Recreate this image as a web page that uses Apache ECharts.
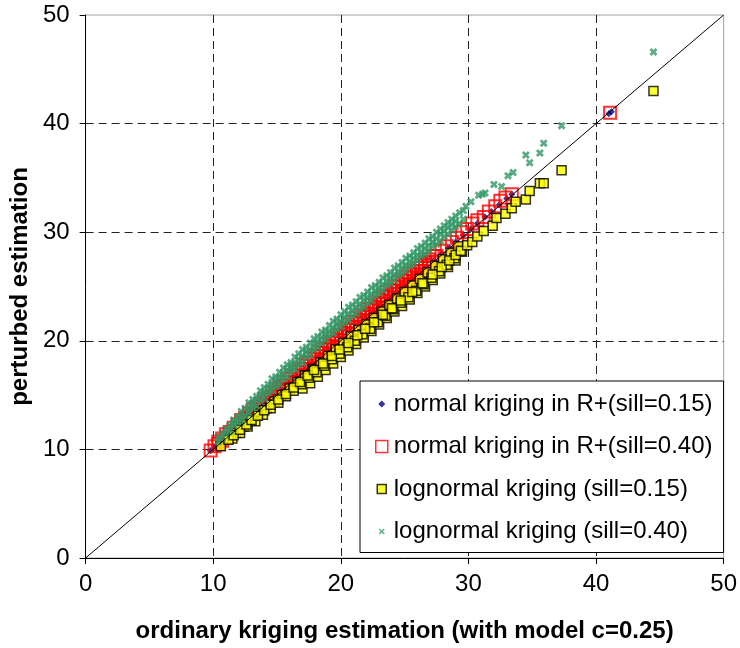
<!DOCTYPE html>
<html>
<head>
<meta charset="utf-8">
<script src="https://cdn.jsdelivr.net/npm/echarts@6/dist/echarts.min.js"></script>
<style>
html, body { margin: 0; padding: 0; background: #fff; }
#chart { width: 740px; height: 648px; }
</style>
</head>
<body>
<div id="chart"></div>
<script>
var FONT = "'Liberation Sans', Arial, sans-serif";

var seriesNames = [
    'normal kriging in R+(sill=0.15)',
    'normal kriging in R+(sill=0.40)',
    'lognormal kriging (sill=0.15)',
    'lognormal kriging (sill=0.40)'
];
var xTitle = 'ordinary kriging estimation (with model c=0.25)';
var yTitle = 'perturbed estimation';

// normal kriging, sill 0.15 (sits on the diagonal)
var normal015 = [
    [9.8, 9.9], [10.2, 10.3], [10.7, 10.8], [11.2, 11.3], [11.7, 11.8], [12.3, 12.4], [12.9, 13.0],
    [13.5, 13.6], [14.1, 14.2], [14.7, 14.8], [15.3, 15.4], [15.9, 16.0], [16.5, 16.6], [17.1, 17.2],
    [17.7, 17.8], [18.3, 18.4], [18.9, 19.0], [19.5, 19.6], [20.1, 20.2], [20.7, 20.8], [21.3, 21.4],
    [21.9, 22.0], [22.5, 22.6], [23.1, 23.2], [23.7, 23.8], [24.3, 24.4], [24.9, 25.0], [25.5, 25.6],
    [26.1, 26.2], [26.7, 26.8], [27.3, 27.4], [27.9, 28.0], [28.5, 28.6], [29.0, 29.1], [29.6, 29.7],
    [30.2, 30.3], [30.7, 30.8], [31.3, 31.4], [31.8, 31.9], [32.4, 32.5], [33.0, 33.1], [33.4, 33.5],
    [41.0, 40.9], [41.2, 41.1]
];

// normal kriging, sill 0.40 (hollow squares, just above the diagonal)
var normal040 = [
    [9.8, 9.9], [10.1, 10.3],
    [10.4, 10.7], [10.4, 10.5], [10.7, 11.0], [10.7, 10.8], [11.0, 11.4], [11.0, 11.1], [11.3, 11.6], [11.3, 11.4],
    [11.6, 12.0], [11.6, 11.7], [11.9, 12.3], [11.9, 12.0], [12.2, 12.7], [12.2, 12.3], [12.5, 12.9], [12.5, 12.6],
    [12.8, 13.3], [12.8, 12.9], [13.1, 13.7], [13.1, 13.2], [13.4, 13.9], [13.4, 13.5], [13.7, 14.2], [13.7, 13.8],
    [14.0, 14.6], [14.0, 14.1], [14.3, 14.8], [14.3, 14.4], [14.6, 15.2], [14.6, 14.7], [14.9, 15.6], [14.9, 15.0],
    [15.2, 15.8], [15.2, 15.3], [15.5, 16.2], [15.5, 15.6], [15.8, 16.5], [15.8, 15.9], [16.1, 16.8], [16.1, 16.2],
    [16.4, 17.2], [16.4, 16.5], [16.7, 17.4], [16.7, 16.8], [17.0, 17.8], [17.0, 17.1], [17.3, 18.0], [17.3, 17.4],
    [17.6, 18.4], [17.6, 17.7], [17.9, 18.6], [17.9, 18.0], [18.2, 19.0], [18.2, 18.3], [18.5, 19.2], [18.5, 18.6],
    [18.8, 19.7], [18.8, 18.9], [19.1, 19.9], [19.1, 19.2], [19.4, 20.3], [19.4, 19.5], [19.7, 20.5], [19.7, 19.8],
    [20.0, 20.9], [20.0, 20.1], [20.3, 21.1], [20.3, 20.4], [20.6, 21.5], [20.6, 20.7], [20.9, 21.7], [20.9, 21.0],
    [21.2, 22.1], [21.2, 21.3], [21.5, 22.3], [21.5, 21.6], [21.8, 22.7], [21.8, 21.9], [22.1, 22.9], [22.1, 22.2],
    [22.4, 23.3], [22.4, 22.5], [22.7, 23.5], [22.7, 22.8], [23.0, 23.9], [23.0, 23.1], [23.3, 24.1], [23.3, 23.4],
    [23.6, 24.5], [23.6, 23.7], [23.9, 24.7], [23.9, 24.0], [24.2, 25.0], [24.2, 24.3], [24.5, 25.4], [24.5, 24.6],
    [24.8, 25.6], [24.8, 24.9], [25.1, 25.9], [25.1, 25.2], [25.4, 26.2], [25.4, 25.5], [25.7, 26.4], [25.7, 25.8],
    [26.0, 26.7], [26.0, 26.1], [26.3, 27.0], [26.3, 26.4], [26.6, 27.2], [26.6, 26.7], [26.9, 27.5], [26.9, 27.0],
    [27.2, 27.8], [27.2, 27.3],
    [12.2, 12.5], [12.5, 12.8], [12.8, 13.1], [13.1, 13.4], [13.4, 13.7], [13.7, 14.0], [14.0, 14.3], [14.3, 14.6],
    [14.6, 14.9], [14.9, 15.3], [15.2, 15.5], [15.5, 15.9], [15.8, 16.2], [16.1, 16.5], [16.4, 16.8], [16.7, 17.1],
    [17.0, 17.4], [17.3, 17.7], [17.6, 18.0], [17.9, 18.3], [18.2, 18.6], [18.5, 18.9], [18.8, 19.3], [19.1, 19.5],
    [19.4, 19.9], [19.7, 20.1], [20.0, 20.5], [20.3, 20.7], [20.6, 21.1], [20.9, 21.3], [21.2, 21.7], [21.5, 21.9],
    [21.8, 22.3], [22.1, 22.5], [22.4, 22.9], [22.7, 23.1], [23.0, 23.5], [23.3, 23.7], [23.6, 24.1], [23.9, 24.3],
    [24.2, 24.6], [24.5, 25.0], [24.8, 25.2], [25.1, 25.5], [25.4, 25.8], [25.7, 26.1], [26.0, 26.4], [26.3, 26.7],
    [26.6, 26.9], [26.9, 27.2],
    [27.5, 27.8], [27.9, 28.3], [28.3, 28.7], [28.7, 29.1], [29.1, 29.5], [29.5, 30.0], [29.9, 30.3],
    [30.3, 30.8], [30.7, 31.1], [31.2, 31.4], [31.6, 31.9], [32.1, 32.4], [32.5, 32.9], [32.9, 33.2], [33.4, 33.5],
    [41.1, 41.0]
];

// lognormal kriging, sill 0.15 (yellow squares, below the diagonal)
var lognormal015 = [
    [17.0, 15.6], [17.6, 16.1], [18.2, 16.7], [18.8, 17.3], [19.4, 17.9], [20.0, 18.5], [20.6, 19.1], [21.2, 19.7],
    [21.8, 20.3], [22.4, 20.9], [23.0, 21.5], [23.6, 22.1], [24.2, 22.7], [24.8, 23.2], [25.4, 23.8], [26.0, 24.4],
    [26.6, 25.0], [27.2, 25.6], [27.8, 26.2], [28.4, 26.8], [29.0, 27.4],
    [11.2, 11.0], [11.8, 11.5], [12.4, 12.1], [13.0, 12.7], [13.6, 13.3], [14.2, 13.8], [14.8, 14.4], [15.4, 15.0],
    [16.0, 15.6], [16.6, 16.2], [17.2, 16.8], [17.8, 17.4], [18.4, 18.0], [19.0, 18.6], [19.6, 19.2], [20.2, 19.8],
    [20.8, 20.4], [21.4, 21.0], [22.0, 21.5], [22.6, 22.1], [23.2, 22.7], [23.8, 23.3], [24.4, 23.9], [25.0, 24.5],
    [25.6, 25.1], [26.2, 25.7], [26.8, 26.3], [27.4, 26.9], [28.0, 27.5], [28.6, 28.1], [29.2, 28.7],
    [11.5, 11.0], [12.1, 11.5], [12.7, 12.1], [13.3, 12.6], [13.9, 13.2], [14.5, 13.8], [15.1, 14.3], [15.7, 14.9],
    [16.3, 15.4], [16.9, 16.0], [17.5, 16.6], [18.1, 17.1], [18.7, 17.7], [19.3, 18.3], [19.9, 18.8], [20.5, 19.4],
    [21.1, 20.0], [21.7, 20.6], [22.3, 21.1], [22.9, 21.7], [23.5, 22.3], [24.1, 22.9], [24.7, 23.5], [25.3, 24.0],
    [25.9, 24.6], [26.5, 25.2], [27.1, 25.8], [27.7, 26.4], [28.3, 27.0], [28.9, 27.6], [29.5, 28.2],
    [10.6, 10.3], [11.2, 10.9], [11.6, 11.3], [12.1, 11.8], [12.6, 12.3], [13.0, 12.7], [13.5, 13.1], [14.0, 13.6],
    [14.5, 14.1], [15.1, 14.6], [15.7, 15.1], [16.3, 15.7], [16.8, 16.2], [17.4, 16.8], [17.9, 17.3], [18.6, 17.9],
    [19.3, 18.6], [19.9, 19.2], [20.6, 19.8], [21.3, 20.5], [21.9, 21.1], [22.6, 21.7], [23.3, 22.4], [24.0, 23.0],
    [24.7, 23.7], [25.6, 24.5], [26.4, 25.3], [27.2, 26.1], [27.9, 26.8], [28.5, 27.4], [29.0, 27.9], [29.4, 28.3],
    [29.9, 28.8], [30.3, 29.1], [30.7, 29.6], [31.2, 30.1], [31.9, 30.6], [32.2, 31.3], [32.9, 31.7], [33.4, 32.2],
    [33.7, 32.8], [34.5, 33.0], [34.8, 33.8], [35.6, 34.5], [35.9, 34.5], [37.3, 35.7], [44.5, 43.0]
];

// lognormal kriging, sill 0.40 (green crosses, above the diagonal)
var lognormal040 = [
    [10.4, 11.1], [10.4, 10.7], [10.7, 11.4], [10.7, 11.0], [11.0, 11.9], [11.0, 11.5], [11.3, 12.2], [11.3, 11.7],
    [11.6, 12.7], [11.6, 12.4], [11.6, 12.2], [11.9, 13.0], [11.9, 12.5], [12.2, 13.5], [12.2, 13.0], [12.2, 12.6],
    [12.5, 13.8], [12.5, 13.1], [12.8, 14.3], [12.8, 13.8], [12.8, 13.3], [13.1, 14.6], [13.1, 14.2], [13.1, 13.8],
    [13.4, 14.9], [13.4, 14.5], [13.4, 14.0], [13.7, 15.4], [13.7, 15.0], [13.7, 14.5], [14.0, 15.7], [14.0, 15.2],
    [14.0, 14.7], [14.3, 16.0], [14.3, 15.6], [14.3, 15.2], [14.6, 16.5], [14.6, 15.9], [14.6, 15.4], [14.9, 16.7],
    [14.9, 16.3], [14.9, 15.8], [15.2, 17.1], [15.2, 16.6], [15.2, 16.0], [15.5, 17.5], [15.5, 17.0], [15.5, 16.5],
    [15.8, 17.8], [15.8, 17.3], [15.8, 16.7], [16.1, 18.0], [16.1, 17.6], [16.1, 17.2], [16.4, 18.5], [16.4, 17.9],
    [16.4, 17.4], [16.7, 18.8], [16.7, 18.3], [16.7, 17.8], [17.0, 19.2], [17.0, 18.6], [17.0, 18.0], [17.3, 19.4],
    [17.3, 19.0], [17.3, 18.5], [17.6, 19.8], [17.6, 19.2], [17.6, 18.7], [17.9, 20.2], [17.9, 19.7], [17.9, 19.2],
    [18.2, 20.4], [18.2, 19.9], [18.2, 19.4], [18.5, 20.8], [18.5, 20.3], [18.5, 19.8], [18.8, 21.0], [18.8, 20.6],
    [18.8, 20.1], [19.1, 21.4], [19.1, 20.9], [19.1, 20.5], [19.4, 21.8], [19.4, 21.2], [19.4, 20.7], [19.7, 22.0],
    [19.7, 21.6], [19.7, 21.1], [20.0, 22.4], [20.0, 21.8], [20.0, 21.3], [20.3, 22.7], [20.3, 22.2], [20.3, 21.7],
    [20.6, 23.1], [20.6, 22.5], [20.6, 21.9], [20.9, 23.3], [20.9, 22.8], [20.9, 22.3], [21.2, 23.6], [21.2, 23.1],
    [21.2, 22.5], [21.5, 24.0], [21.5, 23.4], [21.5, 22.9], [21.8, 24.2], [21.8, 23.7], [21.8, 23.1], [22.1, 24.5],
    [22.1, 24.0], [22.1, 23.5], [22.4, 24.9], [22.4, 24.3], [22.4, 23.7], [22.7, 25.1], [22.7, 24.6], [22.7, 24.2],
    [23.0, 25.4], [23.0, 24.9], [23.0, 24.4], [23.3, 25.8], [23.3, 25.2], [23.3, 24.7], [23.6, 26.0], [23.6, 25.5],
    [23.6, 25.1], [23.9, 26.3], [23.9, 25.8], [23.9, 25.3], [24.2, 26.7], [24.2, 26.1], [24.2, 25.6], [24.5, 26.9],
    [24.5, 26.4], [24.5, 26.0], [24.8, 27.2], [24.8, 26.7], [24.8, 26.2], [25.1, 27.6], [25.1, 27.0], [25.1, 26.5],
    [25.4, 27.8], [25.4, 27.3], [25.4, 26.9], [25.7, 28.1], [25.7, 27.6], [25.7, 27.1], [26.0, 28.5], [26.0, 27.9],
    [26.0, 27.4], [26.3, 28.7], [26.3, 28.2], [26.3, 27.8], [26.6, 29.0], [26.6, 28.5], [26.6, 28.0], [26.9, 29.4],
    [26.9, 28.8], [26.9, 28.3], [27.2, 29.6], [27.2, 29.1], [27.2, 28.7], [27.5, 30.0], [27.5, 29.4], [27.5, 28.9],
    [27.8, 30.3], [27.8, 29.8], [27.8, 29.2], [28.1, 30.6], [28.1, 30.1], [28.1, 29.6], [28.4, 30.9], [28.4, 30.4],
    [28.4, 29.8], [28.7, 31.2], [28.7, 30.7], [28.7, 30.2], [29.0, 31.5], [29.0, 31.0], [29.0, 30.5], [29.3, 31.8],
    [29.3, 30.8], [29.6, 32.0], [29.6, 31.2],
    [29.8, 32.4], [30.2, 32.8], [30.8, 33.4], [31.1, 33.5], [31.3, 33.6], [32.0, 34.4], [32.6, 34.2], [33.1, 35.2],
    [33.5, 35.5], [34.5, 37.1], [34.8, 36.4], [35.6, 37.3], [35.9, 38.2], [37.3, 39.8], [44.5, 46.6]
];

// 1:1 reference line
var diagonal = [[0, 0], [50, 50]];

var axisMin = 0, axisMax = 50, axisStep = 10;

var crossPath = 'path://M0,2L2,0L4,2L6,0L8,2L6,4L8,6L6,8L4,6L2,8L0,6L2,4Z';

var chart = echarts.init(document.getElementById('chart'));

function valueAxis(title, isY) {
    return {
        type: 'value',
        min: axisMin,
        max: axisMax,
        interval: axisStep,
        name: title,
        nameLocation: 'middle',
        nameGap: isY ? 41 : 61,
        nameTextStyle: { fontSize: 24, fontWeight: 'bold', color: '#000', fontFamily: FONT },
        axisLine: { show: true, onZero: false, lineStyle: { color: '#000', width: 1 } },
        axisTick: { show: true, inside: false, length: 6, lineStyle: { color: '#000' } },
        axisLabel: { fontSize: 24, color: '#000', fontFamily: FONT, margin: isY ? 16 : 14 },
        splitLine: {
            show: true, showMinLine: false, showMaxLine: false,
            lineStyle: { color: '#222', width: 1, type: [8, 5] }
        }
    };
}

var option = {
    animation: false,
    backgroundColor: '#fff',
    textStyle: { fontFamily: FONT },
    grid: {
        left: 84, right: 13, top: 15, bottom: 89,
        show: true, borderColor: '#a0a0a0', borderWidth: 1
    },
    xAxis: valueAxis(xTitle, false),
    yAxis: valueAxis(yTitle, true),
    legend: {
        orient: 'vertical',
        left: 360, top: 381,
        padding: [11, 11, 9, 14],
        itemGap: 18.5,
        itemWidth: 14, itemHeight: 14,
        backgroundColor: '#fff',
        borderColor: '#000', borderWidth: 1,
        textStyle: { fontSize: 24, color: '#000', fontFamily: FONT, lineHeight: 22 },
        data: [
            { name: seriesNames[0], icon: 'path://M0,0M14,14M7,3.5L10.5,7L7,10.5L3.5,7Z',
              itemStyle: { color: '#000080', borderWidth: 0 } },
            { name: seriesNames[1], icon: 'path://M0,0M14,14M1,1L13,1L13,13L1,13Z',
              itemStyle: { color: 'rgba(0,0,0,0)', borderColor: '#ff0000', borderWidth: 1.5 } },
            { name: seriesNames[2], icon: 'path://M0,0M14,14M2.5,2.5L11.5,2.5L11.5,11.5L2.5,11.5Z',
              itemStyle: { color: '#ffff00', borderColor: '#000', borderWidth: 1.5 } },
            { name: seriesNames[3], icon: 'path://M0,0M14,14M4,5L5,4L7,6L9,4L10,5L8,7L10,9L9,10L7,8L5,10L4,9L6,7Z',
              itemStyle: { color: '#339966', borderWidth: 0 } }
        ]
    },
    series: [
        {
            name: seriesNames[0], type: 'scatter', data: normal015,
            symbol: 'diamond', symbolSize: 7,
            itemStyle: { color: '#000080' }
        },
        {
            name: seriesNames[1], type: 'scatter', data: normal040,
            symbol: 'rect', symbolSize: 12,
            itemStyle: { color: 'rgba(0,0,0,0)', borderColor: '#ff0000', borderWidth: 2 }
        },
        {
            type: 'line', data: diagonal, symbol: 'none', silent: true,
            lineStyle: { color: '#000', width: 1 }
        },
        {
            name: seriesNames[2], type: 'scatter', data: lognormal015,
            symbol: 'rect', symbolSize: 9,
            itemStyle: { color: '#ffff00', borderColor: '#000', borderWidth: 1.5 }
        },
        {
            name: seriesNames[3], type: 'scatter', data: lognormal040,
            symbol: crossPath, symbolSize: 8,
            itemStyle: { color: '#339966' }
        }
    ]
};

chart.setOption(option);
</script>
</body>
</html>
